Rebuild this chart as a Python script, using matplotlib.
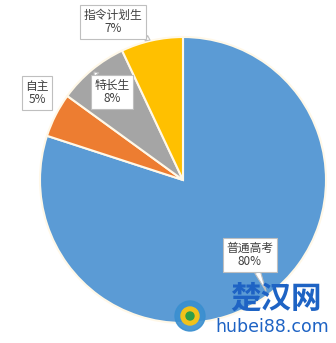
import matplotlib
matplotlib.use('Agg')
import matplotlib.pyplot as plt

plt.rcParams['font.family'] = ['Noto Sans CJK SC', 'DejaVu Sans']

# data
labels = ['普通高考', '自主', '特长生', '指令计划生']
shares = [80, 5, 8, 7]
colors = ['#5B9BD5', '#ED7D31', '#A5A5A5', '#FFC000']

W, H = 336, 343
fig = plt.figure(figsize=(W / 100, H / 100), dpi=100)
ax = fig.add_axes([0, 0, 1, 1])

ax.pie(shares, colors=colors, startangle=90, counterclock=False,
       center=(183, H - 180), radius=143, frame=True,
       wedgeprops=dict(edgecolor='#FFF8E8', linewidth=1.5))
ax.set_xlim(0, W)
ax.set_ylim(0, H)
ax.axis('off')

# callout positions (pixels from top-left) and tail targets
boxes = {
    '普通高考': ((250, 255), (266, 291)),
    '自主': ((37, 93), None),
    '特长生': ((112, 92), (94, 72)),
    '指令计划生': ((113, 22), (150, 40)),
}

for lab, val in zip(labels, shares):
    (bx, by), tail = boxes[lab]
    txt = f'{lab}\n{val}%'
    bbox = dict(boxstyle='square,pad=0.3', fc='white', ec='#BFBFBF', lw=0.8)
    if tail is None:
        ax.text(bx, H - by, txt, ha='center', va='center', fontsize=8.5,
                color='#404040', linespacing=1.05, bbox=bbox)
    else:
        ax.annotate(txt, xy=(tail[0], H - tail[1]), xytext=(bx, H - by),
                    ha='center', va='center', fontsize=8.5, color='#404040',
                    linespacing=1.05, bbox=bbox,
                    arrowprops=dict(arrowstyle='wedge,tail_width=0.5',
                                    fc='white', ec='#BFBFBF', lw=0.8,
                                    shrinkA=0, shrinkB=0))

# watermark
ax.add_patch(plt.Circle((190, H - 316), 15, color='#3A8FD0', alpha=0.9))
ax.add_patch(plt.Circle((190, H - 316), 9, color='#F2C21B'))
ax.add_patch(plt.Circle((190, H - 316), 4, color='#2E9E4A'))
ax.text(276, H - 299, '楚汉网', ha='center', va='center', fontsize=22,
        fontweight='bold', color='#1E63C4')
ax.text(272, H - 327, 'hubei88.com', ha='center', va='center', fontsize=12.5,
        color='#1E63C4', family='DejaVu Sans')

fig.savefig('out.png', dpi=100)
